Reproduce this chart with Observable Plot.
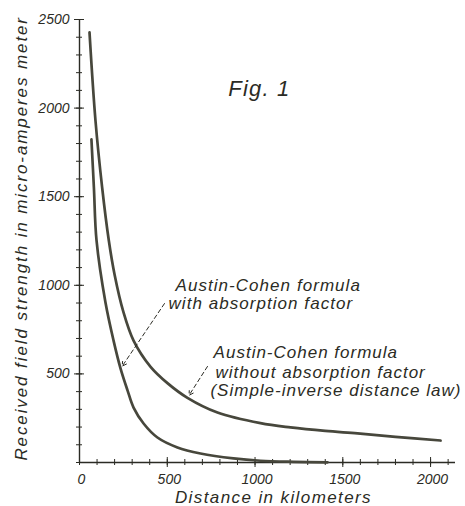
<!DOCTYPE html>
<html><head><meta charset="utf-8">
<script src="https://cdn.jsdelivr.net/npm/d3@7"></script>
<script src="https://cdn.jsdelivr.net/npm/@observablehq/plot@0.6"></script>
<style>
body{margin:0;background:#fff;}
svg{font-family:"Liberation Sans",Arial,sans-serif;font-style:italic;}
</style></head>
<body><div id="chart"></div>
<script>
// Upper curve: Austin-Cohen formula without absorption factor (inverse distance)
const distUpper = [57, 91, 129, 167, 200, 250, 308, 405, 501, 615, 786, 1031, 1202, 1400, 1584, 1800, 2057];
const fieldUpper = [2427, 1930, 1552, 1253, 1060, 850, 688, 540, 448, 365, 282, 222, 198, 178, 164, 145, 124];
// Lower curve: Austin-Cohen formula with absorption factor
const distLower = [68, 82, 97, 148, 194, 234, 274, 308, 365, 444, 558, 689, 877, 1031, 1219, 1413];
const fieldLower = [1823, 1552, 1253, 903, 688, 530, 406, 310, 220, 141, 85, 51, 23, 10, 4, 1];
const xTicks = [0, 500, 1000, 1500, 2000];
const yTicks = [0, 500, 1000, 1500, 2000, 2500];
const labelWith = ["Austin-Cohen formula", "with absorption factor"];
const labelWithout = ["Austin-Cohen formula", "without absorption factor", "(Simple-inverse distance law)"];

const upper = distUpper.map((d, i) => ({d, v: fieldUpper[i]}));
const lower = distLower.map((d, i) => ({d, v: fieldLower[i]}));
const ink = "#2b2b24";
const curveInk = "#47473c";
const minorX = d3.range(0, 2101, 100);
const minorY = d3.range(0, 2501, 100);
const tipLower = lower[5];
const tipUpper = upper[9];
const fmt = d => String(d);

const chart = Plot.plot({
  width: 465, height: 506,
  marginLeft: 79, marginRight: 10, marginTop: 19, marginBottom: 44,
  style: {fontFamily: "Liberation Sans, Arial, sans-serif", fontStyle: "italic", color: ink, background: "#fff"},
  x: {domain: [0, 2142], label: null},
  y: {domain: [0, 2500], label: null},
  marks: [
    Plot.ruleY([0], {stroke: ink, strokeWidth: 1.4}),
    Plot.ruleX([0], {stroke: ink, strokeWidth: 1.4}),
    // minor ticks crossing the axes
    Plot.axisX({ticks: minorX, tickSize: 3, text: null, stroke: ink}),
    Plot.axisX({ticks: minorX, tickSize: 3, text: null, stroke: ink, dy: -3}),
    Plot.axisY({ticks: minorY, tickSize: 3, text: null, stroke: ink}),
    Plot.axisY({ticks: minorY, tickSize: 3, text: null, stroke: ink, dx: 3}),
    // major ticks
    Plot.axisX({ticks: xTicks.slice(1), tickSize: 5, text: null, stroke: ink}),
    Plot.axisX({ticks: xTicks.slice(1), tickSize: 5, text: null, stroke: ink, dy: -5}),
    Plot.axisY({ticks: yTicks.slice(1), tickSize: 5, text: null, stroke: ink}),
    Plot.axisY({ticks: yTicks.slice(1), tickSize: 5, text: null, stroke: ink, dx: 5}),
    // tick labels
    Plot.axisX({ticks: xTicks, tickSize: 0, tickPadding: 12, fontSize: 14, label: null, fill: ink, dx: 2, tickFormat: fmt}),
    Plot.axisY({ticks: yTicks.slice(1), tickSize: 0, tickPadding: 10, fontSize: 14, label: null, fill: ink, tickFormat: fmt}),
    // axis titles
    Plot.text(["Distance in kilometers"], {x: 1105, y: 0, dy: 35, fontSize: 17, fill: ink, text: d => d, ariaLabel: () => "ls-1.4"}),
    Plot.text(["Received field strength in micro-amperes meter"], {x: 0, y: 1265, dx: -58, rotate: -90, fontSize: 17, fill: ink, text: d => d, ariaLabel: () => "ls-1.9"}),
    // curves
    Plot.line(upper, {x: "d", y: "v", curve: "catmull-rom", stroke: curveInk, strokeWidth: 2.7}),
    Plot.line(lower, {x: "d", y: "v", curve: "catmull-rom", stroke: curveInk, strokeWidth: 2.7}),
    // title
    Plot.text(["Fig. 1"], {x: 1025, y: 2110, fontSize: 22, fill: ink, text: d => d, ariaLabel: () => "ls-1.2"}),
    // annotations
    Plot.text(labelWith, {x: (d, i) => [547, 507][i], y: (d, i) => [999, 897][i], textAnchor: "start", fontSize: 17, fill: ink, text: d => d, ariaLabel: () => "ls-1.05"}),
    Plot.text(labelWithout, {x: (d, i) => [764, 775, 746][i], y: (d, i) => [621, 508, 406][i], textAnchor: "start", fontSize: 17, fill: ink, text: d => d, ariaLabel: () => "ls-1"}),
    Plot.arrow([tipLower], {x1: 484, y1: 897, x2: "d", y2: "v", stroke: ink, strokeWidth: 1, strokeDasharray: "4,3", headLength: 7, insetEnd: 3}),
    Plot.arrow([tipUpper], {x1: 729, y1: 542, x2: "d", y2: "v", stroke: ink, strokeWidth: 1, strokeDasharray: "4,3", headLength: 7, insetEnd: 3})
  ]
});
chart.querySelectorAll('[aria-label^="ls-"]').forEach(el => {
  const s = el.getAttribute("aria-label").slice(3);
  el.setAttribute("letter-spacing", s + "px");
  el.style.letterSpacing = s + "px";
});
document.getElementById("chart").appendChild(chart);
</script></body></html>
